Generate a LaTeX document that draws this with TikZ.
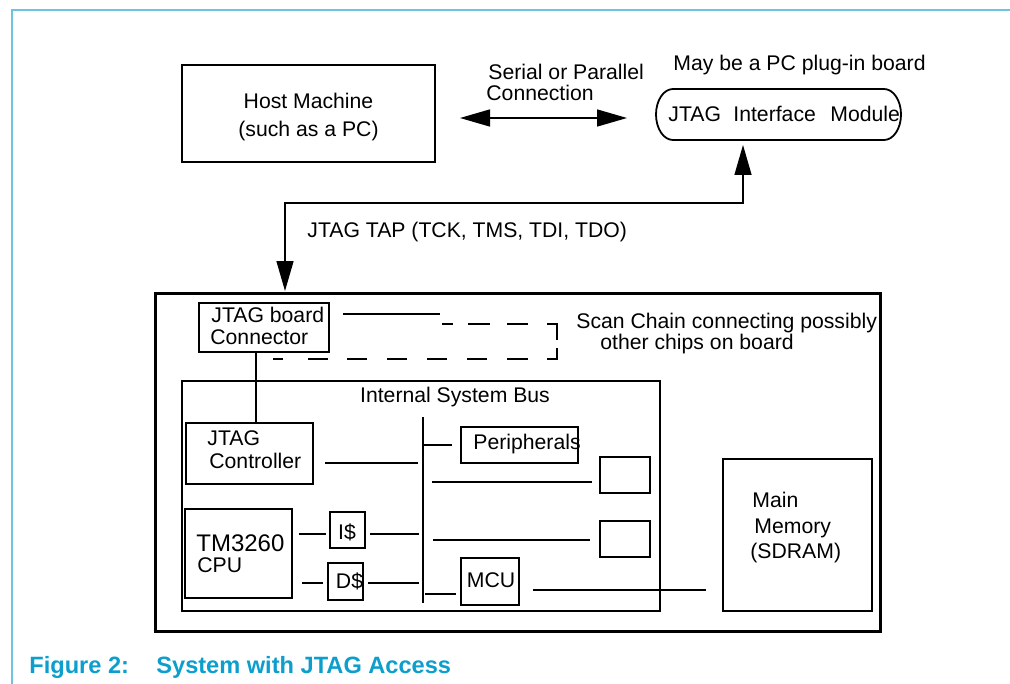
\documentclass[tikz,border=0pt]{standalone}
\usepackage{fontspec}
\setmainfont{Liberation Sans}
\usetikzlibrary{arrows.meta,fit}
\definecolor{framecol}{RGB}{110,196,222}
\definecolor{capcol}{RGB}{12,158,204}
\begin{document}
\begin{tikzpicture}[x=0.5pt,y=-0.5pt,
  box/.style={draw, line width=0.9pt, inner sep=0pt, fit={#1}},
  txt/.style={inner sep=0pt, anchor=base west, font=\fontsize{10.6pt}{12pt}\selectfont},
  txtc/.style={txt, anchor=base},
  captxt/.style={inner sep=0pt, anchor=base west, text=capcol, font=\fontsize{11.8pt}{14pt}\selectfont\bfseries},
  wire/.style={line width=0.75pt},
  bigtip/.tip={Triangle[length=15pt,width=8.5pt]}]
\useasboundingbox (0,0) rectangle (1010,684);
% frame
\draw[framecol, line width=1pt] (12,684) -- (12,10) -- (1010,10);
% host
\node[box={(182,65) (435,162)}] (host) {};
\node[txtc] (hostt1) at (308.5,108.5) {Host Machine};
\node[txtc] (hostt2) at (308.5,136.5) {(such as a PC)};
% serial link
\node[txt] (ser1) at (488,79.5) {Serial or Parallel};
\node[txt] (ser2) at (486,100.5) {Connection};
\coordinate (linkL) at (460,118);
\coordinate (linkR) at (627,118);
\draw[wire, bigtip-bigtip] (linkL) -- (linkR);
% module
\node[txt] (may) at (673,70.5) {May be a PC plug-in board};
\node[inner sep=0pt, fit={(656,89) (901,140)}] (mod) {};
\draw[line width=0.9pt] (673,89) -- (884,89)
  .. controls (893.4,89) and (901,100.4) .. (901,114.5)
  .. controls (901,128.6) and (893.4,140) .. (884,140)
  -- (673,140)
  .. controls (663.6,140) and (656,128.6) .. (656,114.5)
  .. controls (656,100.4) and (663.6,89) .. (673,89) -- cycle;
\node[txt] (modt1) at (668,121.5) {JTAG};
\node[txt] (modt2) at (733,121.5) {Interface};
\node[txt] (modt3) at (830,121.5) {Module};
% TAP connection
\coordinate (tapTop) at (743,145);
\coordinate (tapBend) at (285,203);
\coordinate (tapBot) at (285,291);
\draw[wire, bigtip-bigtip] (tapTop) |- (tapBend) -- (tapBot);
\node[txt] (tap) at (307,237) {JTAG TAP (TCK, TMS, TDI, TDO)};
% board
\node[draw, line width=1.5pt, inner sep=0pt, fit={(155,293) (880,631)}] (board) {};
% JTAG board connector
\node[box={(199,303) (329,352)}] (conn) {};
\node[txt] (connt1) at (211,322.5) {JTAG board};
\node[txt] (connt2) at (210,344.5) {Connector};
\draw[wire] (343,314) -- (440,314);
% scan chain (dashed)
\draw[wire]
  (442,324) -- (453,324)
  (468,324) -- (490,324)
  (507,324) -- (528,324)
  (547,324) -- (557,324) -- (557,340)
  (557,348) -- (557,359) -- (547,359)
  (528,359) -- (507,359)
  (487,359) -- (467,359)
  (447,359) -- (427,359)
  (407,359) -- (387,359)
  (367,359) -- (347,359)
  (328,359) -- (308,359)
  (283,359) -- (273,359);
\node[txt] (scan1) at (576,328.5) {Scan Chain connecting possibly};
\node[txt] (scan2) at (600,349.5) {other chips on board};
% internal system
\node[box={(182,381) (660,611)}] (sys) {};
\node[txtc] (syst) at (455,402.5) {Internal System Bus};
% JTAG controller
\node[box={(186,423) (313,484)}] (ctrl) {};
\node[txt] (ctrlt1) at (207,445.5) {JTAG};
\node[txt] (ctrlt2) at (209,468.5) {Controller};
\draw[wire] (conn.south -| 256,0) -- (ctrl.north -| 256,0);
\draw[wire] (325,463) -- (418,463);
% bus
\coordinate (busTop) at (423,417);
\coordinate (busBot) at (423,603);
\draw[line width=1pt] (busTop) -- (busBot);
% peripherals
\node[box={(461,427) (578,463)}] (peri) {};
\node[txt] (perit) at (473,449.5) {Peripherals};
\draw[wire] (423,445) -- (452,445);
\node[box={(600,457) (650,493)}] (dev1) {};
\draw[wire] (432,482) -- (592,482);
\node[box={(600,521) (650,557)}] (dev2) {};
\draw[wire] (433,540) -- (590,540);
% MCU
\node[box={(461,558) (519,605)}] (mcu) {};
\node[txtc] (mcut) at (491,587) {MCU};
\draw[wire] (425,594) -- (456,594);
\draw[wire] (533,590) -- (706,590);
% CPU
\node[box={(185,509) (292,598)}] (cpu) {};
\node[inner sep=0pt, anchor=base west, font=\fontsize{12pt}{14pt}\selectfont] (cput1) at (196,551.5) {TM3260};
\node[txt] (cput2) at (197,572.5) {CPU};
% caches
\node[box={(330,512) (365,548)}] (icache) {};
\node[txtc] (icachet) at (347,539) {I\$};
\draw[wire] (299,534) -- (326,534);
\draw[wire] (370,534) -- (419,534);
\node[box={(328,563) (363,600)}] (dcache) {};
\node[txtc] (dcachet) at (349.5,588) {D\$};
\draw[wire] (302,583) -- (323,583);
\draw[wire] (368,583) -- (419,583);
% main memory
\node[box={(723,459) (872,611)}] (mem) {};
\node[txt] (memt1) at (752,507) {Main};
\node[txt] (memt2) at (754,533) {Memory};
\node[txt] (memt3) at (750,558) {(SDRAM)};
% caption
\node[captxt] (cap1) at (29,673) {Figure 2:};
\node[captxt] (cap2) at (156,673) {System with JTAG Access};
\end{tikzpicture}
\end{document}
